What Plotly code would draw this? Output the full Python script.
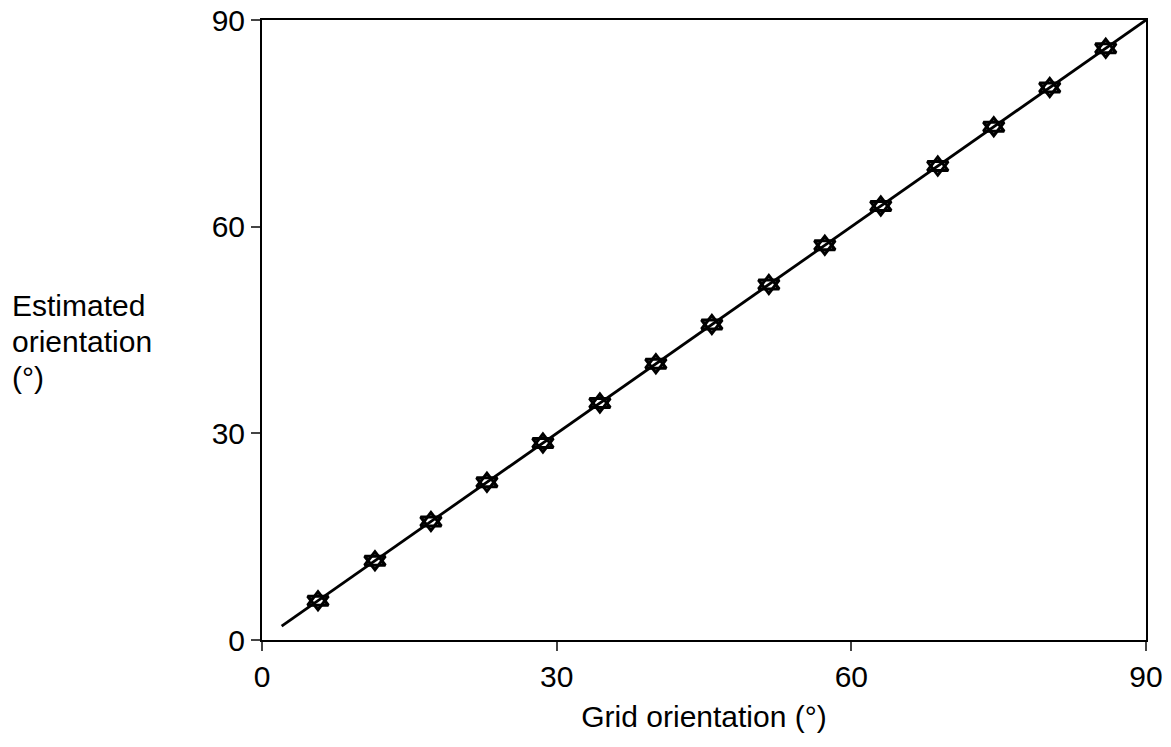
import plotly.graph_objects as go

grid_orientation = [5.7, 11.5, 17.2, 22.9, 28.6, 34.4, 40.1, 45.8, 51.6, 57.3, 63.0, 68.8, 74.5, 80.2, 85.9]
estimated_orientation = [5.7, 11.5, 17.2, 22.9, 28.6, 34.4, 40.1, 45.8, 51.6, 57.3, 63.0, 68.8, 74.5, 80.2, 85.9]
identity_x = [2, 90]
identity_y = [2, 90]
tick_vals = [0, 30, 60, 90]
y_title_lines = ["Estimated", "orientation", "(°)"]

fig = go.Figure()
fig.add_trace(go.Scatter(x=identity_x, y=identity_y, mode="lines",
                         line=dict(color="black", width=2.8), showlegend=False))
for sym in ["triangle-up-open", "triangle-down-open"]:
    fig.add_trace(go.Scatter(x=grid_orientation, y=estimated_orientation, mode="markers",
                             marker=dict(symbol=sym, size=18, color="black",
                                         line=dict(color="black", width=3)),
                             showlegend=False))

font = dict(family="Liberation Sans, Arial, sans-serif", size=30, color="black")
annotations = []
for i, line in enumerate(y_title_lines):
    py = 305 + 36 * i
    annotations.append(dict(text=line, xref="paper", yref="paper",
                            x=(10 - 262) / 884, y=(640 - py) / 620,
                            xanchor="left", yanchor="middle", align="left",
                            showarrow=False, font=font))

fig.update_layout(
    width=1163, height=739,
    margin=dict(l=254, r=25, t=12, b=107, autoexpand=False),
    paper_bgcolor="white", plot_bgcolor="white",
    font=font,
    xaxis=dict(range=[0, 90], tickvals=tick_vals, ticks="outside", ticklen=9, tickwidth=2,
               showline=True, linecolor="black", linewidth=2, mirror=True, automargin=False,
               showgrid=False, zeroline=False, ticklabeloverflow="allow",
               title=dict(text="Grid orientation (°)", font=font, standoff=14)),
    yaxis=dict(range=[0, 90], tickvals=tick_vals, ticks="outside", ticklen=9, tickwidth=2,
               showline=True, linecolor="black", linewidth=2, mirror=True, automargin=False,
               showgrid=False, zeroline=False, ticklabeloverflow="allow"),
    annotations=annotations,
)
fig.write_html("out.html")
